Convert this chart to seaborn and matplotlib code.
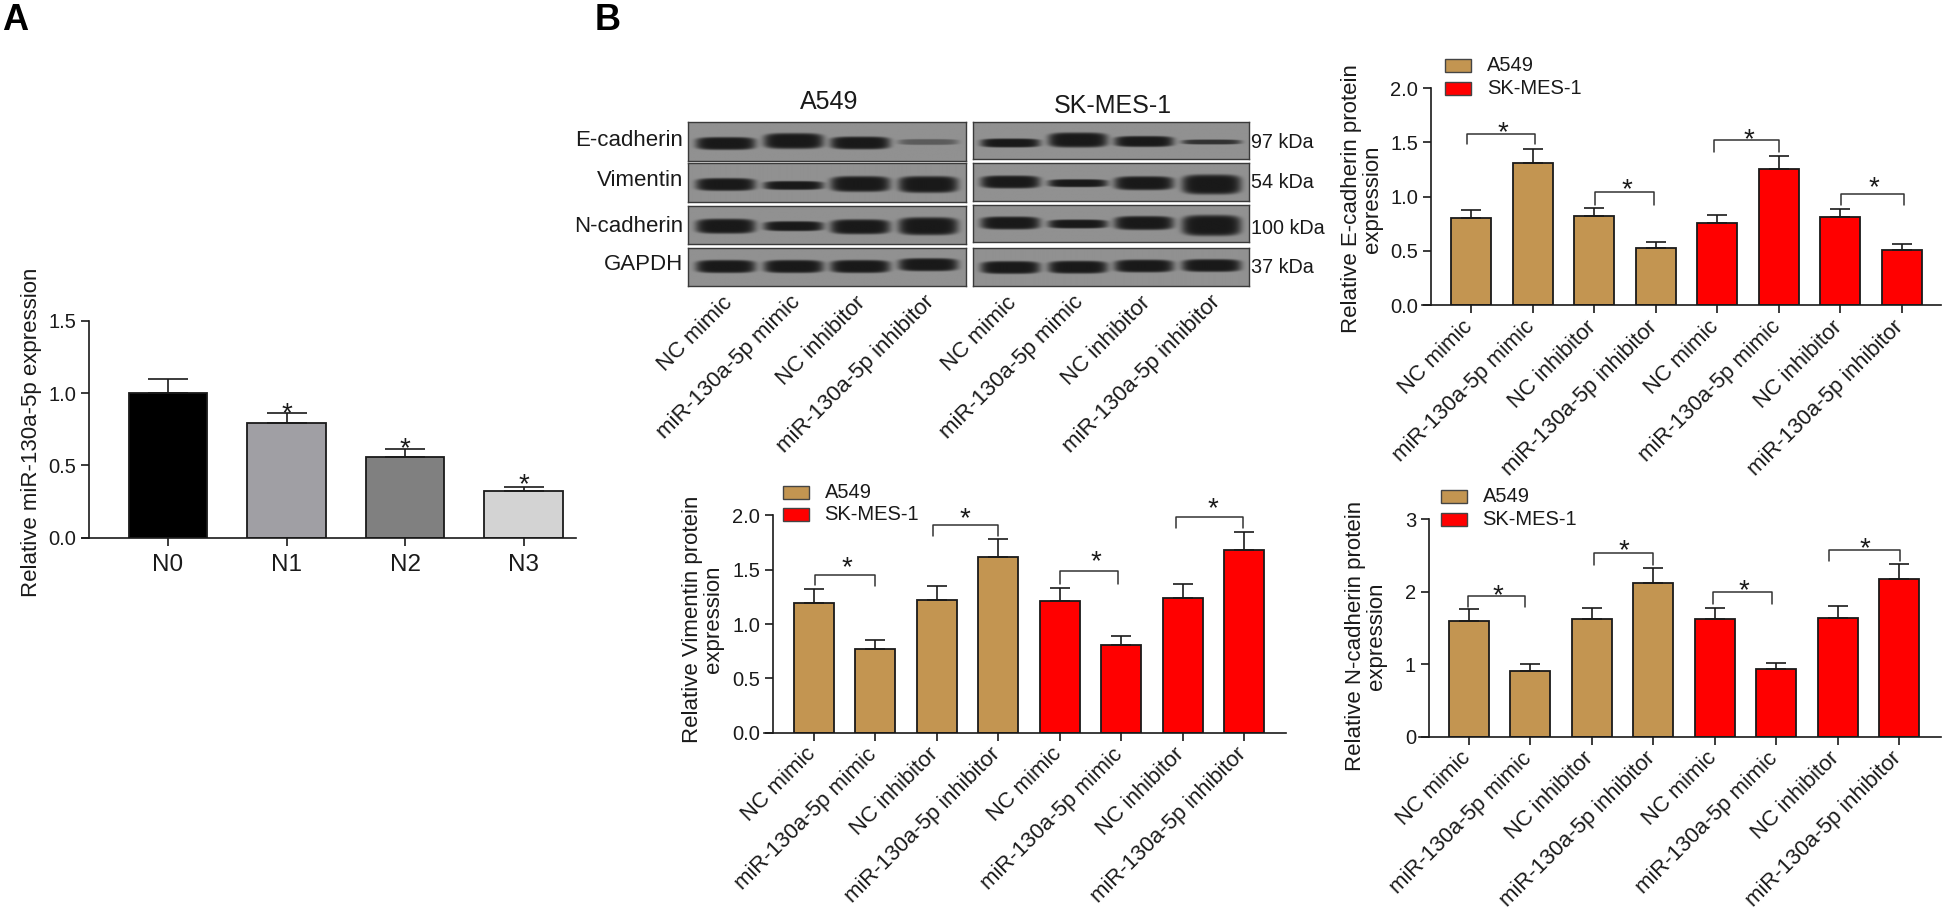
import numpy as np
import pandas as pd
import matplotlib
matplotlib.use("Agg")
import matplotlib.pyplot as plt
import seaborn as sns
from matplotlib.patches import Rectangle
from matplotlib.transforms import ScaledTranslation

W, H = 1946, 911

# panel A
n_groups = ["N0", "N1", "N2", "N3"]
n_values = [1.00, 0.79, 0.56, 0.32]
n_errors = [0.10, 0.07, 0.05, 0.03]
n_colors = ["#000000", "#A09FA4", "#808080", "#D3D3D3"]
n_stars = [None, 0.905, 0.657, 0.41]

# panel B bar charts
treatments = ["NC mimic", "miR-130a-5p mimic", "NC inhibitor", "miR-130a-5p inhibitor"] * 2
cells = ["A549", "SK-MES-1"]

ecad_values = [0.80, 1.31, 0.82, 0.53, 0.76, 1.25, 0.81, 0.51]
ecad_tops = [0.88, 1.44, 0.90, 0.58, 0.83, 1.37, 0.89, 0.56]
ecad_brackets = [(-0.065, 1.03, 1.58, 1.48, 1.48), (2.01, 2.97, 1.04, 0.92, 0.92),
                 (3.94, 5.0, 1.52, 1.41, 1.41), (6.01, 7.03, 1.02, 0.92, 0.92)]
ecad_stars = [(0.51, 1.65), (2.53, 1.12), (4.51, 1.58), (6.55, 1.14)]

vim_values = [1.19, 0.77, 1.22, 1.62, 1.21, 0.81, 1.24, 1.68]
vim_tops = [1.32, 0.85, 1.35, 1.78, 1.33, 0.89, 1.37, 1.85]
vim_brackets = [(0.02, 0.99, 1.45, 1.36, 1.35), (1.94, 3.0, 1.91, 1.81, 1.81),
                (4.0, 4.94, 1.49, 1.37, 1.37), (5.89, 6.97, 1.98, 1.88, 1.88)]
vim_stars = [(0.54, 1.58), (2.45, 2.03), (4.58, 1.63), (6.49, 2.12)]

ncad_values = [1.60, 0.91, 1.62, 2.12, 1.62, 0.93, 1.64, 2.17]
ncad_tops = [1.76, 1.00, 1.78, 2.33, 1.78, 1.02, 1.81, 2.39]
ncad_brackets = [(-0.01, 0.91, 1.94, 1.79, 1.79), (2.04, 3.0, 2.54, 2.37, 2.37),
                 (3.97, 4.93, 2.00, 1.83, 1.83), (5.86, 7.01, 2.58, 2.43, 2.43)]
ncad_stars = [(0.48, 2.03), (2.52, 2.65), (4.48, 2.11), (6.45, 2.68)]

# western blot, band thickness (px) per lane
blot_rows = ["E-cadherin", "Vimentin", "N-cadherin", "GAPDH"]
blot_kda = ["97 kDa", "54 kDa", "100 kDa", "37 kDa"]
a549_bands = [[13, 16, 13, 6], [13, 9, 16, 17], [15, 10, 15, 18], [13, 13, 13, 13]]
sk_bands = [[9, 15, 11, 5], [13, 8, 14, 20], [13, 9, 14, 21], [13, 13, 13, 13]]
a549_strength = [[1, 1, 1, 0.45], [1, 1, 1, 1], [1, 1, 1, 1], [1, 1, 1, 1]]
sk_strength = [[1, 1, 1, 0.8], [1, 1, 1, 1], [1, 1, 1, 1], [1, 1, 1, 1]]

sns.set_theme(style="white")
plt.rcParams["font.family"] = ["Liberation Sans", "DejaVu Sans"]
plt.rcParams["axes.linewidth"] = 1.2
plt.rcParams["text.color"] = "#1a1a1a"

fig = plt.figure(figsize=(W / 100, H / 100), dpi=100, facecolor="white")

TAN = "#C39551"
RED = "#FF0000"
DARK = "#1a1a1a"


def px_axes(left, right, top, bottom):
    return fig.add_axes([left / W, 1 - bottom / H, (right - left) / W, (bottom - top) / H])


def fig_text(x, y, s, **kw):
    fig.text(x / W, 1 - y / H, s, **kw)


def draw_bars(box, tick0, step, spine_x, values, tops, colors, ylim, yticks, fmt, labels, rot, lab_size, cap, barw):
    left, right, top, bottom = box
    ax = px_axes(left, right, top, bottom)
    df = pd.DataFrame({"pos": list(range(len(values))), "value": values})
    sns.barplot(data=df, x="pos", y="value", hue="pos", palette=colors, width=barw / step,
                edgecolor=DARK, linewidth=1.3, legend=False, dodge=False, saturation=1, ax=ax)
    pos = np.arange(len(values))
    ax.errorbar(pos, values, yerr=[np.zeros(len(values)), np.array(tops) - np.array(values)],
                fmt="none", ecolor=DARK, elinewidth=1.2, capsize=cap, capthick=1.2, zorder=1, clip_on=False)
    ax.set_xlim((left - tick0) / step, (right - tick0) / step)
    ax.set_ylim(*ylim)
    ax.patch.set_alpha(0)
    sns.despine(ax=ax)
    ax.spines["left"].set_position(("data", (spine_x - tick0) / step))
    ax.spines["left"].set_color(DARK)
    ax.spines["bottom"].set_color(DARK)
    ax.set_yticks(yticks)
    ax.set_yticklabels([fmt.format(t) for t in yticks])
    ax.set_xticks(pos)
    if rot:
        ax.set_xticklabels(labels, rotation=rot, ha="right", rotation_mode="anchor", fontsize=lab_size)
    else:
        ax.set_xticklabels(labels, fontsize=lab_size)
    ax.tick_params(axis="y", length=6, width=1.2, color=DARK, labelsize=14.5, pad=3, left=True, labelcolor=DARK)
    ax.tick_params(axis="x", length=6, width=1.2, color=DARK, pad=2 if rot else 6, bottom=True, labelcolor=DARK)
    if rot:
        # has to come after tick_params, which resets the label transform
        for lab in ax.get_xticklabels():
            lab.set_transform(lab.get_transform() + ScaledTranslation(-0.09, 0, fig.dpi_scale_trans))
    ax.set_xlabel("")
    ax.set_ylabel("")
    return ax


def add_brackets(ax, brackets, stars):
    for x0, x1, y, d0, d1 in brackets:
        ax.plot([x0, x0, x1, x1], [d0, y, y, d1], color="#333333", lw=1.1, clip_on=False)
    for x, y in stars:
        ax.annotate("*", (x, y), xytext=(0, -7), textcoords="offset pixels", ha="center", va="center",
                    fontsize=20, annotation_clip=False)


def add_legend(x, y0, y1, text_x):
    for yy, c, name in zip([y0, y1], [TAN, RED], cells):
        fig.add_artist(Rectangle((x / W, 1 - (yy + 12.8) / H), 26 / W, 12.8 / H, transform=fig.transFigure,
                                 facecolor=c, edgecolor="#444444", lw=1.0))
        fig_text(text_x, yy + 6.6, name, fontsize=14.5, va="center", ha="left")


colors8 = [TAN] * 4 + [RED] * 4

# panel A
ax = draw_bars((81.5, 576, 320.7, 537.7), 168, 118.5, 89, n_values,
               np.array(n_values) + np.array(n_errors), n_colors, (0, 1.5), [0, 0.5, 1.0, 1.5], "{:.1f}",
               n_groups, 0, 17.5, 14.4, 78.5)
for i, s in enumerate(n_stars):
    if s is not None:
        ax.annotate("*", (i, s), xytext=(0, -7), textcoords="offset pixels", ha="center", va="center", fontsize=20)
fig_text(32, 432, "Relative miR-130a-5p expression", fontsize=16, rotation=90, ha="center", va="center")

# E-cadherin
ax = draw_bars((1421.8, 1941, 88, 305.3), 1471.3, 61.5, 1430.6, ecad_values, ecad_tops, colors8,
               (0, 2.0), [0, 0.5, 1.0, 1.5, 2.0], "{:.1f}", treatments, 45, 15.8, 7.5, 40)
add_brackets(ax, ecad_brackets, ecad_stars)
add_legend(1445, 59, 82, 1487)
fig_text(1362, 199, "Relative E-cadherin protein\nexpression", fontsize=16, rotation=90, ha="center", va="center",
         multialignment="center", linespacing=1.05)

# Vimentin
ax = draw_bars((764, 1285.7, 515.3, 732.7), 813.9, 61.5, 772.6, vim_values, vim_tops, colors8,
               (0, 2.0), [0, 0.5, 1.0, 1.5, 2.0], "{:.1f}", treatments, 45, 15.8, 7.5, 40)
add_brackets(ax, vim_brackets, vim_stars)
add_legend(783, 486, 508.3, 824.5)
fig_text(703, 619, "Relative Vimentin protein\nexpression", fontsize=16, rotation=90, ha="center", va="center",
         multialignment="center", linespacing=1.05)

# N-cadherin
ax = draw_bars((1419, 1941, 519.3, 736.7), 1468.7, 61.5, 1428.5, ncad_values, ncad_tops, colors8,
               (0, 3), [0, 1, 2, 3], "{:d}", treatments, 45, 15.8, 7.5, 40)
add_brackets(ax, ncad_brackets, ncad_stars)
add_legend(1441, 490, 512.7, 1482.6)
fig_text(1366, 636, "Relative N-cadherin protein\nexpression", fontsize=16, rotation=90, ha="center", va="center",
         multialignment="center", linespacing=1.05)

# western blot
lanes = [0.135, 0.38, 0.62, 0.865]
lane_w = 0.108
a549_rows_y = [(121.7, 160.7), (163.3, 202.3), (205.7, 244.3), (247.7, 286)]
sk_rows_y = [(121.7, 159.3), (163.3, 201), (204.7, 242.3), (248, 286)]
a549_shift = [[2, -0.5, 1.5, 0.5], [2, 3, 1.5, 2], [1.7, 1.7, 2.3, 1.7], [0, 0, 0, -1.8]]
sk_shift = [[3, 0, 1.5, 2], [0, 1.2, 1.2, 2.5], [0, 1, 0, 2.5], [0.5, 0.2, -1, -1.5]]
blot_panels = [((688.4, 965.5), a549_rows_y, a549_bands, a549_strength, a549_shift),
               ((973.4, 1249), sk_rows_y, sk_bands, sk_strength, sk_shift)]
for (left, right), rows_y, bands, strength, shift in blot_panels:
    for r, (top, bottom) in enumerate(rows_y):
        ax = px_axes(left, right, top, bottom)
        nx, ny = int(right - left) * 2, int(bottom - top) * 2
        xx, yy = np.meshgrid(np.linspace(0, 1, nx), np.linspace(0, 1, ny))
        img = np.full((ny, nx), 0.57)
        for c, t, s, dy in zip(lanes, bands[r], strength[r], shift[r]):
            half = t / (bottom - top) / 2
            cy = 0.5 + dy / (bottom - top)
            d = ((xx - c) / lane_w) ** 4 + ((yy - cy) / half) ** 4
            img = img - (img - 0.1) * s * np.exp(-d ** 2)
        ax.imshow(img, cmap="gray", vmin=0, vmax=1, aspect="auto", extent=(0, 1, 1, 0))
        ax.set_xticks([])
        ax.set_yticks([])
        for sp in ax.spines.values():
            sp.set_color("#3a3a3a")
            sp.set_linewidth(1.0)

for name, kda, yy, ky in zip(blot_rows, blot_kda, [141, 180, 226, 265], [143, 183, 228, 268]):
    fig_text(683, yy, name, fontsize=16, ha="right", va="center")
    fig_text(1251, ky, kda, fontsize=14.2, ha="left", va="center")
fig_text(828.7, 101.7, "A549", fontsize=18, ha="center", va="center")
fig_text(1113, 106, "SK-MES-1", fontsize=18, ha="center", va="center")

# lane labels under the blot
lane_label_x = [722, 790, 855, 924, 1006, 1073, 1140, 1210]
for x, lab in zip(lane_label_x, treatments):
    fig.text(x / W, 1 - 292 / H, lab, fontsize=16, rotation=45, ha="right", va="top", rotation_mode="anchor")

fig_text(2, 21, "A", fontsize=26, fontweight="bold", ha="left", va="center", color="black")
fig_text(595, 20, "B", fontsize=26, fontweight="bold", ha="left", va="center", color="black")

fig.savefig("out.png", dpi=100)
